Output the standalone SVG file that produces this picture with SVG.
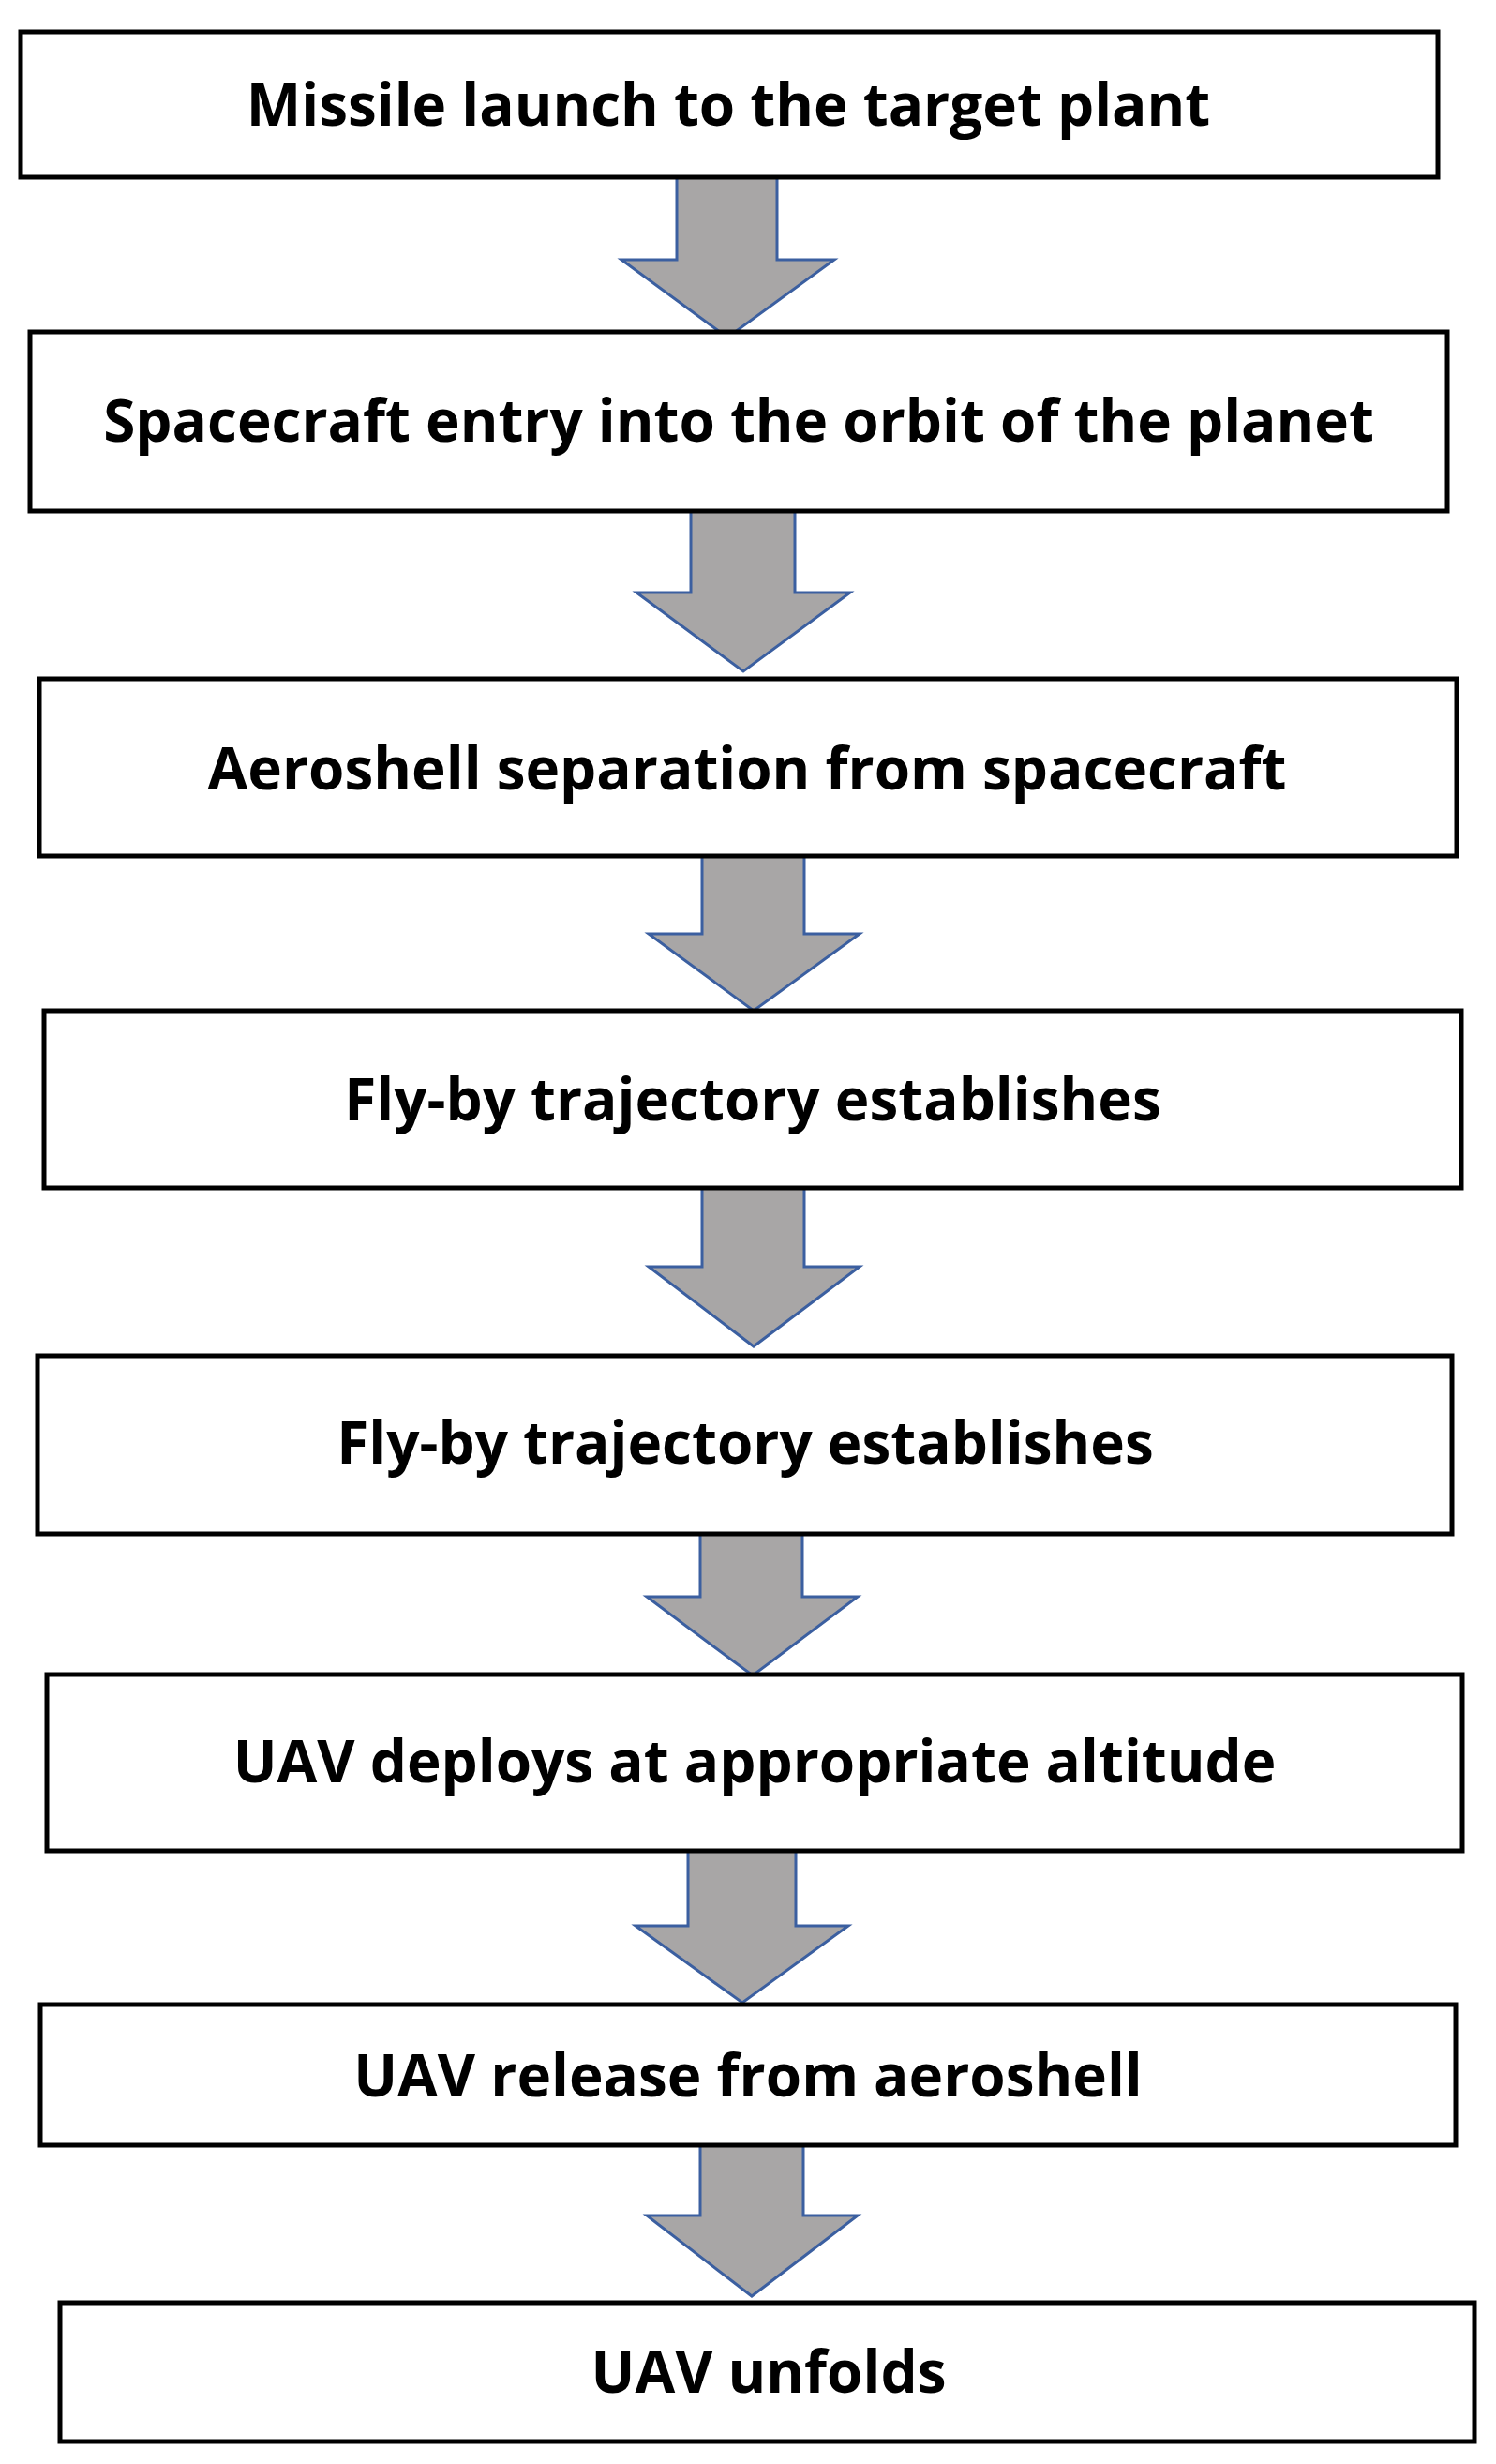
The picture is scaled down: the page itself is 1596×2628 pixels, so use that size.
<svg xmlns="http://www.w3.org/2000/svg" width="1596" height="2628" viewBox="0 0 1596 2628">
<style>
.box{fill:#fff;stroke:#000;stroke-width:5}
.arr{fill:#a8a6a6;stroke:#3b5fa0;stroke-width:3;stroke-linejoin:miter}
text{font-family:"Open Sans","Liberation Sans",sans-serif;font-weight:700;font-size:62px;fill:#000;text-anchor:middle}
</style>
<rect width="1596" height="2628" fill="#fff"/>
<g id="connectors">
<path class="arr" d="M722,189 H829 V277 H890 L776,360 L663,277 H722 Z"/>
<path class="arr" d="M737,545 H848 V632 H907 L793,716 L679,632 H737 Z"/>
<path class="arr" d="M749,913 H858 V996 H917 L804,1078 L692,996 H749 Z"/>
<path class="arr" d="M749,1267 H858 V1351 H917 L804,1436 L692,1351 H749 Z"/>
<path class="arr" d="M747,1636 H856 V1703 H915 L803,1787 L690,1703 H747 Z"/>
<path class="arr" d="M734,1970 H849 V2054 H905 L792,2136 L678,2054 H734 Z"/>
<path class="arr" d="M747,2282 H857 V2363 H915 L802,2449 L690,2363 H747 Z"/>
</g>
<g id="n1"><rect class="box" x="22" y="34" width="1512" height="155"/><text x="777" y="134">Missile launch to the target plant</text></g>
<g id="n2"><rect class="box" x="32" y="354" width="1512" height="191"/><text x="788" y="471">Spacecraft entry into the orbit of the planet</text></g>
<g id="n3"><rect class="box" x="42" y="724" width="1512" height="189"/><text x="797" y="842">Aeroshell separation from spacecraft</text></g>
<g id="n4"><rect class="box" x="47" y="1078" width="1512" height="189"/><text x="803" y="1195">Fly-by trajectory establishes</text></g>
<g id="n5"><rect class="box" x="40" y="1446" width="1509" height="190"/><text x="795" y="1561">Fly-by trajectory establishes</text></g>
<g id="n6"><rect class="box" x="50" y="1786" width="1510" height="188"/><text x="805" y="1901">UAV deploys at appropriate altitude</text></g>
<g id="n7"><rect class="box" x="43" y="2138" width="1510" height="150"/><text x="798" y="2236">UAV release from aeroshell</text></g>
<g id="n8"><rect class="box" x="64" y="2456" width="1509" height="148"/><text x="820" y="2552">UAV unfolds</text></g>
</svg>
